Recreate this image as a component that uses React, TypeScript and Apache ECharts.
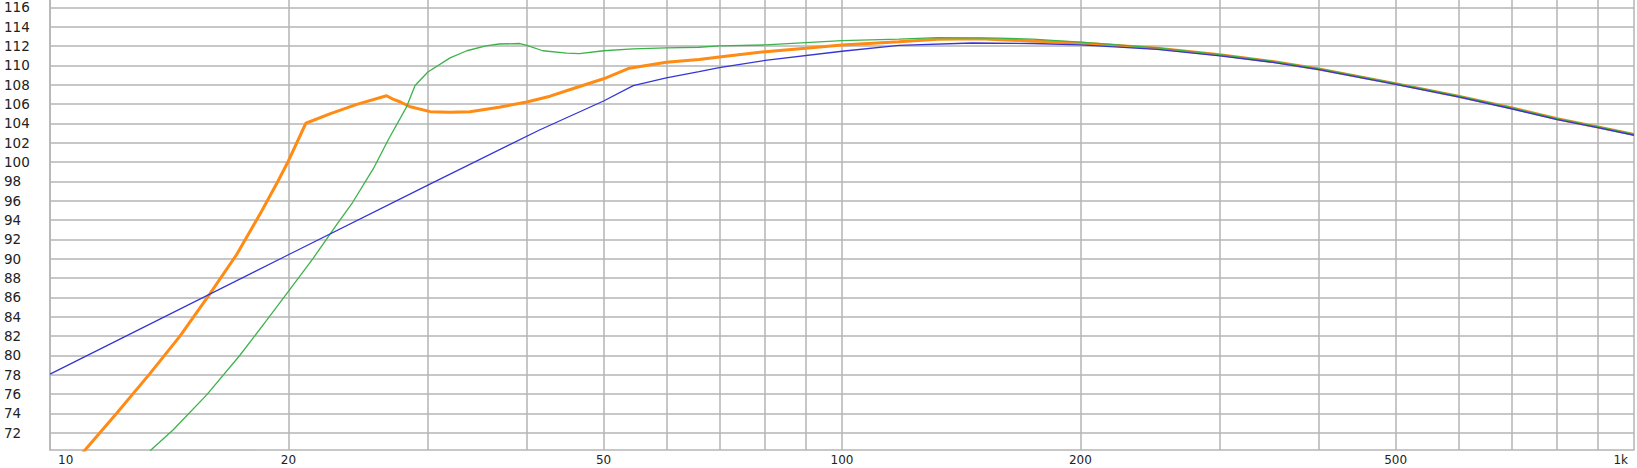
import React, { useEffect, useRef } from "react";
import * as echarts from "echarts";

// Frequencies (Hz) and levels (dB)
const orangeHz = [10.8, 11.1, 12.14, 13.37, 14.6, 15.9, 17.2, 18.5, 19.4, 20, 21.04, 22.6, 24.4, 26.6, 27.1, 27.7, 28.5, 30.2, 32, 33.9, 36.9, 40, 42.8, 46.0, 50, 53.9, 60, 66, 70, 80, 90, 100, 118, 132, 149, 174, 200, 250, 300, 350, 400, 500, 600, 700, 800, 900, 1000];
const orangeDb = [69.2, 70.3, 74.0, 78.1, 82.0, 86.3, 90.4, 94.9, 98.0, 100.1, 104.0, 105.0, 105.95, 106.85, 106.5, 106.2, 105.7, 105.2, 105.15, 105.2, 105.65, 106.2, 106.8, 107.65, 108.6, 109.7, 110.3, 110.6, 110.85, 111.4, 111.75, 112.1, 112.44, 112.7, 112.75, 112.5, 112.3, 111.75, 111.08, 110.38, 109.62, 108.1, 106.8, 105.6, 104.46, 103.62, 102.85];

const greenHz = [13.2, 13.41, 14.31, 15.77, 17.37, 18.77, 20, 21.48, 23.0, 24.1, 25.6, 26.8, 28.2, 28.9, 30, 32, 33.6, 35.5, 36.9, 39.2, 40, 41.9, 44.9, 46.6, 50, 54.5, 60, 66, 70, 80, 100, 118, 132, 158, 174, 200, 250, 300, 350, 400, 500, 600, 700, 800, 900, 1000];
const greenDb = [69.5, 70.2, 72.3, 75.9, 80.0, 83.6, 86.6, 90.0, 93.5, 95.8, 99.3, 102.45, 105.7, 107.9, 109.3, 110.76, 111.5, 112.0, 112.2, 112.25, 112.05, 111.5, 111.25, 111.2, 111.5, 111.7, 111.8, 111.86, 112.0, 112.1, 112.54, 112.7, 112.85, 112.8, 112.7, 112.4, 111.8, 111.1, 110.4, 109.64, 108.12, 106.82, 105.62, 104.48, 103.64, 102.87];

const blueHz = [10, 20, 30, 41.5, 50, 54.5, 60, 66, 70, 80, 100, 118, 146, 174, 200, 250, 300, 350, 400, 500, 600, 700, 800, 900, 1000];
const blueDb = [78.05, 90.4, 97.6, 103.3, 106.3, 107.9, 108.7, 109.33, 109.75, 110.5, 111.45, 112.05, 112.3, 112.25, 112.1, 111.65, 110.98, 110.3, 109.55, 108.02, 106.72, 105.5, 104.38, 103.54, 102.76];

const xGridHz = [10, 20, 30, 40, 50, 60, 70, 80, 90, 100, 200, 300, 400, 500, 600, 700, 800, 900, 1000];
const xLabelHz = [10, 20, 50, 100, 200, 500, 1000];
const yTicks = [72, 74, 76, 78, 80, 82, 84, 86, 88, 90, 92, 94, 96, 98, 100, 102, 104, 106, 108, 110, 112, 114, 116];

const GRID = "#b4b4b4";
const TEXT = "#222";
const FONT = "DejaVu Sans";
const FS_Y = 13.5;
const FS_X = 12;

export default function App() {
  const ref = useRef<HTMLDivElement>(null);
  useEffect(() => {
    if (!ref.current) return;
    const chart = echarts.init(ref.current, null, { renderer: "svg" });
    const lg = (f: number) => Math.log10(f);
    const pairs = (hz: number[], db: number[]) => hz.map((f, i) => [lg(f), db[i]]);
    const fmtHz = (v: number) => {
      const f = Math.round(Math.pow(10, v));
      return f >= 1000 ? f / 1000 + "k" : String(f);
    };
    chart.setOption({
      animation: false,
      backgroundColor: "#ffffff",
      grid: { left: 50, right: 3, top: 0, bottom: 18, containLabel: false, outerBoundsMode: "none" },
      xAxis: {
        type: "value",
        min: 1,
        max: 3,
        axisLine: { show: true, lineStyle: { color: GRID, width: 1.5 } },
        axisTick: { show: false, customValues: xGridHz.map(lg) },
        splitLine: { show: true, lineStyle: { color: GRID, width: 1.5 } },
        axisLabel: {
          customValues: xLabelHz.map(lg),
          color: TEXT,
          fontFamily: FONT,
          fontSize: FS_X,
          lineHeight: 12,
          margin: 4,
          formatter: (v: number) => {
            const s = fmtHz(v);
            if (Math.abs(v - 1) < 1e-6) return "{a|" + s + "}";
            if (Math.abs(v - 3) < 1e-6) return "{b|" + s + "}";
            return s;
          },
          rich: {
            a: { color: TEXT, fontFamily: FONT, fontSize: FS_X, lineHeight: 12, align: "left", padding: [0, 0, 0, 8] },
            b: { color: TEXT, fontFamily: FONT, fontSize: FS_X, lineHeight: 12, align: "right", padding: [0, 6, 0, 0] },
          },
          alignMinLabel: "left",
          alignMaxLabel: "right",
        },
      },
      yAxis: {
        type: "value",
        min: 70.2,
        max: 116.75,
        axisLine: { show: true, lineStyle: { color: GRID, width: 1.5 } },
        axisTick: { show: false, customValues: yTicks },
        splitLine: { show: true, lineStyle: { color: GRID, width: 1.5 } },
        axisLabel: {
          customValues: yTicks,
          color: TEXT,
          fontFamily: FONT,
          fontSize: FS_Y,
          lineHeight: 13,
          align: "left",
          margin: 46,
        },
      },
      series: [
        {
          type: "line",
          data: pairs(orangeHz, orangeDb),
          showSymbol: false,
          lineStyle: { color: "#ff8a14", width: 3 },
          itemStyle: { color: "#ff8a14" },
          z: 2,
        },
        {
          type: "line",
          data: pairs(greenHz, greenDb),
          showSymbol: false,
          lineStyle: { color: "#3cb34a", width: 1.3 },
          itemStyle: { color: "#3cb34a" },
          z: 3,
        },
        {
          type: "line",
          data: pairs(blueHz, blueDb),
          showSymbol: false,
          lineStyle: { color: "#3535d5", width: 1.3 },
          itemStyle: { color: "#3535d5" },
          z: 4,
        },
      ],
    });
    return () => chart.dispose();
  }, []);
  return (
    <div
      ref={ref}
      style={{ position: "fixed", left: 0, top: 0, width: 1637, height: 468, background: "#fff" }}
    />
  );
}
